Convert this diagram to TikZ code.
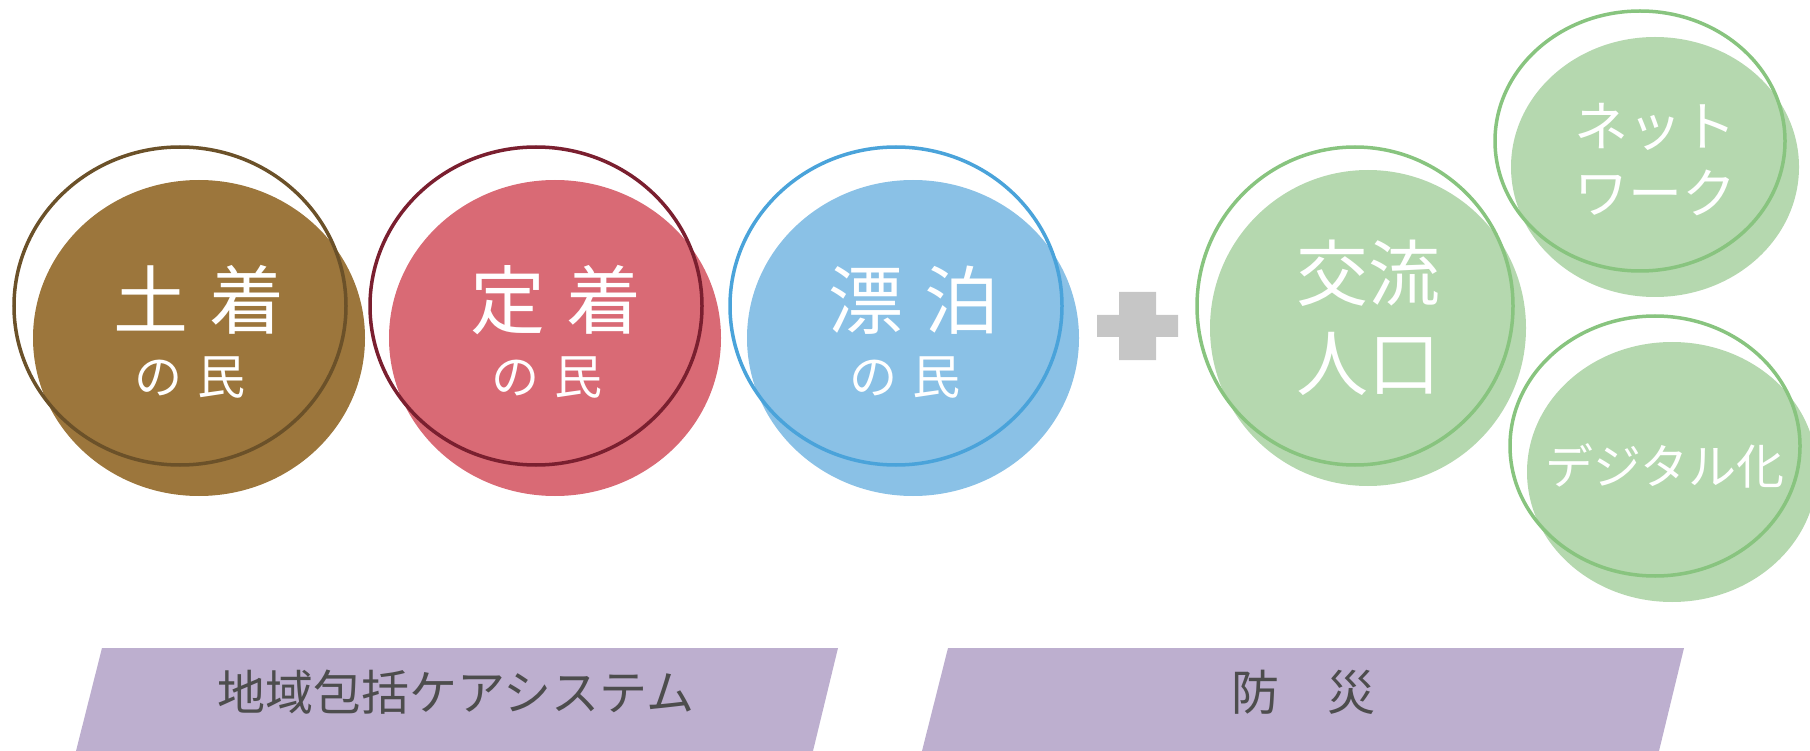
\documentclass[tikz,border=0pt]{standalone}
\usepackage{fontspec}
\setmainfont{Noto Sans CJK JP}
\usetikzlibrary{shapes.geometric}
\definecolor{brF}{HTML}{9C763C}
\definecolor{brO}{HTML}{6B5129}
\definecolor{rdF}{HTML}{D96A75}
\definecolor{rdO}{HTML}{7A1F2F}
\definecolor{blF}{HTML}{8AC1E6}
\definecolor{blO}{HTML}{4AA3DA}
\definecolor{grF}{HTML}{B5D8AF}
\definecolor{grO}{HTML}{88C47F}
\definecolor{puF}{HTML}{BDAFCF}
\definecolor{txG}{HTML}{4D4D4D}
\definecolor{plG}{HTML}{C6C6C6}
\tikzset{
  blob/.style={ellipse, draw=none, inner sep=0pt},
  ring/.style={ellipse, fill=none, line width=3.5pt, inner sep=0pt},
  bigtxt/.style={text=white, inner sep=0pt, font=\fontsize{75}{90}\selectfont, align=center},
  quadtxt/.style={text=white, inner sep=0pt, font=\fontsize{72}{90}\selectfont, align=center},
  midtxt/.style={text=white, inner sep=0pt, font=\fontsize{48}{56}\selectfont},
  smtxt/.style={text=white, inner sep=0pt, font=\fontsize{54}{67}\selectfont, align=center},
  bartxt/.style={text=txG, inner sep=0pt, font=\fontsize{48}{58}\selectfont},
  bar/.style={fill=puF, draw=none}
}
\begin{document}
\begin{tikzpicture}[x=1pt,y=-1pt]
\useasboundingbox (0,0) rectangle (1810,751);
% bubble 1
\node[blob, fill=brF, minimum width=332, minimum height=316] (f1) at (199,338) {};
\node[ring, draw=brO, minimum width=332, minimum height=318] (o1) at (180,306) {};
\node[bigtxt] (t1) at (199,300) {土\hspace{0.28em}着};
\node[midtxt] (s1) at (190,378) {の\hspace{0.3em}民};
% bubble 2
\node[blob, fill=rdF, minimum width=332, minimum height=316] (f2) at (555,338) {};
\node[ring, draw=rdO, minimum width=332, minimum height=318] (o2) at (536,306) {};
\node[bigtxt] (t2) at (556,300) {定\hspace{0.28em}着};
\node[midtxt] (s2) at (547,378) {の\hspace{0.3em}民};
% bubble 3
\node[blob, fill=blF, minimum width=332, minimum height=316] (f3) at (913,338) {};
\node[ring, draw=blO, minimum width=332, minimum height=318] (o3) at (896,306) {};
\node[bigtxt] (t3) at (914,300) {漂\hspace{0.28em}泊};
\node[midtxt] (s3) at (905,378) {の\hspace{0.3em}民};
% plus
\fill[plG] (1119,292) -- (1156,292) -- (1156,315) -- (1178,315) -- (1178,337) -- (1156,337) -- (1156,360) -- (1119,360) -- (1119,337) -- (1097,337) -- (1097,315) -- (1119,315) -- cycle;
% bubble 4
\node[blob, fill=grF, minimum width=316, minimum height=316] (f4) at (1368,328) {};
\node[ring, draw=grO, minimum width=316, minimum height=318] (o4) at (1355,306) {};
\node[quadtxt] (t4) at (1368,318) {交流\\人口};
% bubble 5
\node[blob, fill=grF, minimum width=288, minimum height=260] (f5) at (1655,167) {};
\node[ring, draw=grO, minimum width=290, minimum height=260] (o5) at (1640,141) {};
\node[smtxt] (t5) at (1655,160) {ネット\\ワーク};
% bubble 6
\node[blob, fill=grF, minimum width=290, minimum height=260] (f6) at (1672,472) {};
\node[ring, draw=grO, minimum width=290, minimum height=260] (o6) at (1655,446) {};
\node[smtxt, font=\fontsize{48}{58}\selectfont] (t6) at (1665,466) {デジタル化};
% bars
\fill[bar] (102,648) -- (838,648) -- (813,751) -- (76,751) -- cycle;
\fill[bar] (948,648) -- (1684,648) -- (1659,751) -- (922,751) -- cycle;
\node[bartxt] (b1) at (456,692) {地域包括ケアシステム};
\node[bartxt] (b2) at (1303,692) {防　災};
\end{tikzpicture}
\end{document}
